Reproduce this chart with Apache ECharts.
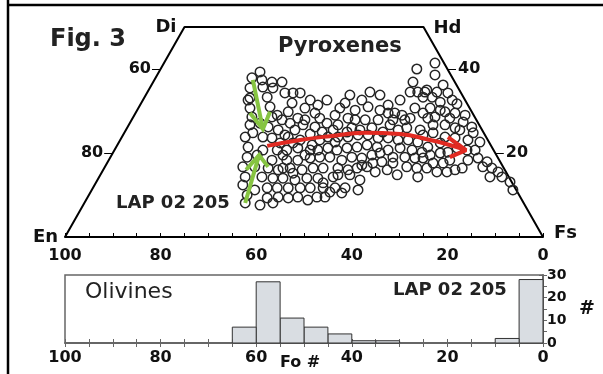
<!DOCTYPE html>
<html><head><meta charset="utf-8">
<script src="https://cdn.jsdelivr.net/npm/echarts@6/dist/echarts.min.js"></script>
<style>html,body{margin:0;padding:0;background:#fff}#c{width:603px;height:374px}</style>
</head><body><div id="c"></div>
<script>
// Pyroxene analyses: [position on En–Fs axis (100 = En, 0 = Fs), Wo]
const pyxPoints = [
[59.2,39.3],[60.9,37.9],[58.8,37.4],[56.7,36.9],[54.6,36.9],[61.3,35.5],[58.6,35.7],[56.5,35.5],[61.3,33.1],[57.7,33.3],[52.3,34.3],[50.8,34.3],[52.5,31.9],[49.8,30.7],[45.2,32.6],[61.3,30.7],[57.1,31.0],[47.7,29.5],[46.7,28.3],[45.2,27.1],[60.9,28.6],[56.7,28.6],[54.6,27.9],[52.9,27.1],[61.3,26.7],[59.2,27.1],[55.4,25.5],[57.5,26.2],[48.7,24.5],[60.7,24.8],[53.3,29.8],[51.3,28.3],[50.2,26.7],[54.0,24.3],[61.7,32.6],[55.6,29.0],
[26.4,40.0],[27.2,36.9],[27.8,34.5],[26.2,34.5],[24.7,34.5],[40.4,33.8],[36.2,34.5],[34.1,33.8],[39.3,30.2],[36.6,31.0],[34.1,30.2],[40.8,28.3],[39.3,27.9],[31.0,29.5],[29.5,29.0],[31.4,27.9],[42.9,26.7],[35.8,26.0],[38.3,25.5],[41.0,25.0],[33.5,25.0],[28.5,26.0],[25.7,25.5],[42.5,30.7],[47.7,26.2],[46.2,25.0],[32.0,26.7],[30.3,25.5],[28.9,27.9],
[22.6,41.4],[22.6,38.6],[20.9,36.2],[24.3,35.0],[22.2,34.5],[19.9,34.3],[21.5,32.1],[23.2,33.3],[25.1,33.3],[25.1,29.5],[22.6,28.6],[20.5,29.8],[18.4,29.5],[23.0,26.7],[20.5,26.7],[16.7,27.4],[14.9,26.2],[18.4,26.0],[19.5,28.3],[16.3,29.0],[18.0,31.7],
[62.3,23.8],[58.6,23.8],[56.7,23.6],[53.3,23.8],[50.8,23.1],[46.7,23.1],[61.7,21.4],[58.6,20.7],[55.6,20.7],[53.6,20.7],[51.3,21.2],[48.7,20.7],[47.1,20.7],[45.0,21.2],[61.9,19.0],[59.8,19.5],[56.7,18.3],[53.6,18.3],[51.3,18.3],[48.7,18.8],[46.7,19.0],[62.8,16.7],[57.5,16.4],[55.4,16.0],[52.9,16.4],[50.4,16.0],[48.1,16.4],[46.0,16.4],[62.3,14.3],[58.8,14.3],[56.5,14.0],[54.4,14.0],[51.9,13.6],[49.4,14.0],[47.1,14.0],[62.8,12.4],[57.7,11.7],[55.6,11.7],[53.3,11.7],[50.8,11.7],[48.7,11.7],[46.0,11.7],[61.9,10.0],[57.7,9.3],[55.4,9.5],[53.3,9.3],[51.3,9.5],[49.2,8.8],[47.3,9.5],[62.3,8.1],[56.5,8.1],[59.2,7.6],[60.3,16.7],[60.3,11.2],[55.0,22.4],[51.9,25.5],
[45.0,23.8],[42.9,23.8],[40.8,23.8],[38.7,24.3],[36.6,24.3],[34.5,23.6],[32.4,23.6],[30.3,23.1],[28.2,23.1],[26.2,22.6],[43.1,20.7],[41.0,21.2],[38.9,21.4],[36.8,21.9],[34.7,21.4],[32.4,20.7],[29.9,21.2],[27.4,20.7],[25.3,20.2],[40.0,19.0],[37.9,18.8],[35.8,19.5],[33.7,17.9],[31.4,17.6],[28.9,19.0],[26.8,18.8],[42.9,16.4],[40.8,16.0],[38.9,16.4],[36.8,16.7],[28.5,16.7],[26.4,16.4],[30.5,14.8],[42.9,14.8],[40.4,14.8],[43.5,11.7],[41.4,11.7],[38.7,11.2],[44.6,10.7],[42.1,10.5],[45.6,9.5],[24.3,16.4],[35.6,17.6],[43.9,14.3],[46.0,12.9],[34.1,20.0],[31.4,19.0],[25.1,18.8],[43.9,25.5],
[25.1,24.3],[23.0,24.8],[21.5,22.4],[24.1,21.4],[23.6,19.5],[21.5,20.0],[19.9,20.2],[18.0,21.2],[15.7,23.1],[14.6,24.8],[15.9,20.7],[15.7,18.3],[13.6,18.8],[11.7,17.9],[12.6,16.7],[10.7,16.4],[9.4,15.5],[11.1,14.3],[8.6,14.3],[6.9,13.1],[6.3,11.2],[23.0,17.6],[20.9,17.6],[18.4,16.0],[22.2,15.5],[20.1,15.5],[20.5,23.8],[18.4,23.6],[17.4,25.5],
[54.0,34.3],[48.7,32.6],[47.1,31.4],[43.5,29.0],[41.4,31.9],[37.9,32.6],[32.4,31.4],[29.9,32.6],[26.8,30.7],[23.6,30.7],[19.0,32.6],[49.8,27.9],[48.3,21.9],[43.5,22.6],[40.0,26.0],[37.2,27.9],[34.5,27.9],[32.4,29.5],[27.8,28.3],[24.1,28.3],[21.5,30.2],[49.8,19.5],[44.6,19.0],[42.1,18.3],[37.9,17.1],[35.1,15.5],[32.6,16.0],[26.2,14.3],[54.4,16.4],[19.5,18.3],[14.2,20.7],[13.2,22.6],[16.9,16.4],[52.3,22.4],[54.4,19.5],[52.3,15.2],[38.3,13.6]
];

// Pyroxene quadrilateral corners [axis position, Wo]
const quadCorners = [[100,0],[75,50],[25,50],[0,0]];
const cornerNames = ['En','Di','Hd','Fs'];
// Edge ticks: left edge (En content) and right edge (Wo)
const leftTickWo = [40,20];
const leftTickLabels = ['60','80'];
const rightTickWo = [40,20];
const rightTickLabels = ['40','20'];

// Trend arrows (annotation paths) [axis position, Wo]
const greenArrow1 = [[60.7,37.4],[58.6,25.7]];
const greenHead1 = [[61.3,29.5],[58.6,25.7],[57.1,29.8]];
const greenArrow2 = [[62.3,8.1],[59.4,19.5]];
const greenHead2 = [[62.1,16.0],[59.4,19.5],[57.5,16.7]];
const redArc = [[57.7,21.7],[50.8,23.1],[44.6,24.0],[37.2,24.8],[29.9,24.5],[23.6,23.1],[19.5,21.9],[16.1,20.7]];
const redHead = [[19.9,23.8],[16.1,20.7],[19.5,19.0]];

// Olivine Fo# histogram
const binStart = [0,5,30,35,40,45,50,55,60];
const binCount = [28,2,1,1,4,7,11,27,7];
const binWidth = 5;

const xTickLabels = [100,80,60,40,20,0];
const histYLabels = [0,10,20,30];

const FONT = 'DejaVu Sans';
const chart = echarts.init(document.getElementById('c'));

const cornerLabelCfg = {
  En: {position:'left', offset:[-2,0]},
  Di: {position:'left', offset:[-3,0]},
  Hd: {position:'right', offset:[5,1]},
  Fs: {position:'right', offset:[6,-4]}
};

const edgeTicks = [];
const edgeTickLabels = [];
leftTickWo.forEach((w,i)=>{
  const v = 100 - w/2;
  edgeTicks.push({coords:[[v,w],[v+1.8,w]]});
  edgeTickLabels.push({value:[v+1.8,w], name:leftTickLabels[i], label:{position:'left', distance:1}});
});
rightTickWo.forEach((w,i)=>{
  const v = w/2;
  edgeTicks.push({coords:[[v,w],[v-1.8,w]]});
  edgeTickLabels.push({value:[v-1.8,w], name:rightTickLabels[i], label:{position:'right', distance:2}});
});

const boldLabel = {fontFamily:FONT, fontWeight:'bold', color:'#111', opacity:1};

const option = {
  animation:false,
  textStyle:{fontFamily:FONT},
  grid:[
    {left:65, right:60, top:27, height:210},
    {left:65, right:60, top:275, height:68, show:true, borderColor:'#666', borderWidth:1.5}
  ],
  xAxis:[
    {gridIndex:0, type:'value', min:0, max:100, interval:5, inverse:true,
     axisLine:{lineStyle:{color:'#000', width:2}},
     axisTick:{inside:true, length:4, lineStyle:{color:'#000', width:1}},
     splitLine:{show:false},
     axisLabel:Object.assign({fontSize:16, margin:11,
       formatter:v=>xTickLabels.indexOf(v)>=0?String(v):''}, boldLabel)},
    {gridIndex:1, type:'value', min:0, max:100, interval:5, inverse:true,
     axisLine:{lineStyle:{color:'#666', width:1.5}},
     axisTick:{inside:true, length:4, lineStyle:{color:'#666'}},
     splitLine:{show:false},
     axisLabel:Object.assign({fontSize:16, margin:7,
       formatter:v=>xTickLabels.indexOf(v)>=0?String(v):''}, boldLabel)},
    {gridIndex:1, type:'value', min:0, max:100, interval:5, inverse:true, position:'top',
     axisLine:{lineStyle:{color:'#666', width:1.5}},
     axisTick:{inside:true, length:4, lineStyle:{color:'#666'}},
     splitLine:{show:false}, axisLabel:{show:false}}
  ],
  yAxis:[
    {gridIndex:0, type:'value', min:0, max:50, show:false},
    {gridIndex:1, type:'value', min:0, max:30, interval:5, position:'right',
     axisLine:{show:true, lineStyle:{color:'#666', width:1.5}},
     axisTick:{show:true, inside:true, length:4, lineStyle:{color:'#666'}},
     splitLine:{show:false},
     name:'#', nameLocation:'middle', nameGap:36, nameRotate:0,
     nameTextStyle:Object.assign({fontSize:19}, boldLabel),
     axisLabel:Object.assign({fontSize:14, margin:4,
       formatter:v=>histYLabels.indexOf(v)>=0?String(v):''}, boldLabel)},
    {gridIndex:1, type:'value', min:0, max:30, interval:5, position:'left',
     axisLine:{show:true, lineStyle:{color:'#666', width:1.5}},
     axisTick:{show:true, inside:true, length:4, lineStyle:{color:'#666'}},
     splitLine:{show:false}, axisLabel:{show:false}}
  ],
  series:[
    {type:'line', xAxisIndex:0, yAxisIndex:0, data:quadCorners, symbol:'none',
     lineStyle:{color:'#000', width:2}, z:3},
    {type:'scatter', xAxisIndex:0, yAxisIndex:0, symbolSize:0, z:4, itemStyle:{opacity:1},
     data:quadCorners.map((c,i)=>({value:c, name:cornerNames[i],
       label:Object.assign({show:true, formatter:'{b}', fontSize:18}, boldLabel, cornerLabelCfg[cornerNames[i]])}))},
    {type:'lines', coordinateSystem:'cartesian2d', xAxisIndex:0, yAxisIndex:0,
     data:edgeTicks, lineStyle:{color:'#000', width:1, opacity:1}, z:3},
    {type:'scatter', xAxisIndex:0, yAxisIndex:0, symbolSize:0, z:4, itemStyle:{opacity:1},
     data:edgeTickLabels,
     label:Object.assign({show:true, formatter:'{b}', fontSize:16}, boldLabel)},
    {type:'scatter', xAxisIndex:0, yAxisIndex:0, data:pyxPoints, symbol:'circle', symbolSize:9.5,
     itemStyle:{color:'rgba(0,0,0,0)', borderColor:'#262626', borderWidth:1.5, opacity:1}, z:5},
    {type:'line', xAxisIndex:0, yAxisIndex:0, data:greenArrow1, symbol:'none', lineStyle:{color:'#86c441', width:4}, z:6},
    {type:'line', xAxisIndex:0, yAxisIndex:0, data:greenHead1, symbol:'none', lineStyle:{color:'#86c441', width:4, join:'miter'}, z:6},
    {type:'line', xAxisIndex:0, yAxisIndex:0, data:greenArrow2, symbol:'none', lineStyle:{color:'#86c441', width:4}, z:6},
    {type:'line', xAxisIndex:0, yAxisIndex:0, data:greenHead2, symbol:'none', lineStyle:{color:'#86c441', width:4, join:'miter'}, z:6},
    {type:'line', xAxisIndex:0, yAxisIndex:0, data:redArc, symbol:'none', smooth:0.5, lineStyle:{color:'#e12a22', width:4}, z:6},
    {type:'line', xAxisIndex:0, yAxisIndex:0, data:redHead, symbol:'none', lineStyle:{color:'#e12a22', width:4}, z:6},
    {type:'custom', xAxisIndex:1, yAxisIndex:1, z:2,
     data:binStart.map((s,i)=>[s, binCount[i]]),
     encode:{x:0, y:1},
     renderItem:function(params, api){
       const x0 = api.value(0), c = api.value(1);
       const p1 = api.coord([x0, c]);
       const p2 = api.coord([x0 + binWidth, 0]);
       return {type:'rect',
         shape:{x:Math.min(p1[0],p2[0]), y:p1[1], width:Math.abs(p2[0]-p1[0]), height:p2[1]-p1[1]},
         style:{fill:'#d9dde2', stroke:'#333', lineWidth:1}};
     }}
  ],
  graphic:[
    {type:'line', shape:{x1:8, y1:0, x2:8, y2:374}, style:{stroke:'#000', lineWidth:2.5}},
    {type:'line', shape:{x1:8, y1:5, x2:603, y2:5}, style:{stroke:'#000', lineWidth:2.5}},
    {type:'text', left:50, top:28, style:{text:'Fig. 3', fontFamily:FONT, fontWeight:'bold', fontSize:24, fill:'#222'}},
    {type:'text', left:278, top:36, style:{text:'Pyroxenes', fontFamily:FONT, fontWeight:'bold', fontSize:21, fill:'#222'}},
    {type:'text', left:116, top:194, style:{text:'LAP 02 205', fontFamily:FONT, fontWeight:'bold', fontSize:18, fill:'#222'}},
    {type:'text', left:85, top:281, style:{text:'Olivines', fontFamily:FONT, fontSize:22, fill:'#222'}},
    {type:'text', left:393, top:281, style:{text:'LAP 02 205', fontFamily:FONT, fontWeight:'bold', fontSize:18, fill:'#222'}},
    {type:'text', left:280, top:355, style:{text:'Fo #', fontFamily:FONT, fontWeight:'bold', fontSize:16, fill:'#111'}}
  ]
};
chart.setOption(option);
</script></body></html>
